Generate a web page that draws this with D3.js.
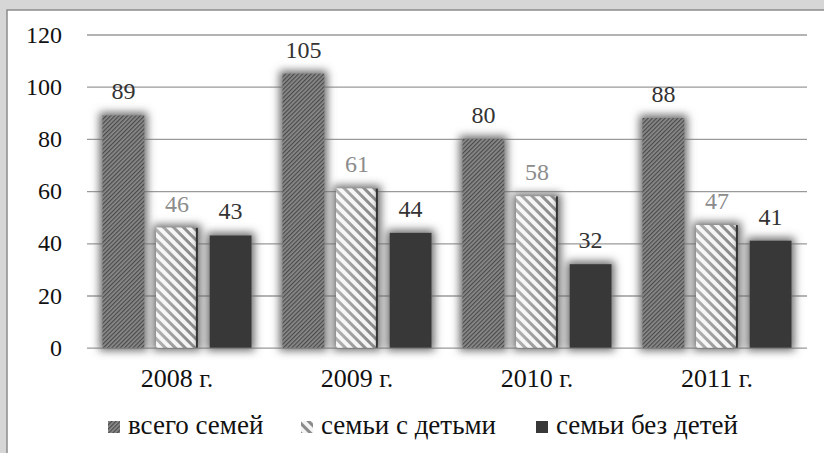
<!DOCTYPE html>
<html>
<head>
<meta charset="utf-8">
<script src="https://cdn.jsdelivr.net/npm/d3@7"></script>
</head>
<body style="margin:0;background:#d6d6d6">
<svg id="chart" width="824" height="453" style="display:block"></svg>
<script>
// data
var years = ['2008 г.', '2009 г.', '2010 г.', '2011 г.'];
var seriesNames = ['всего семей', 'семьи с детьми', 'семьи без детей'];
var totalFamilies = [89, 105, 80, 88];
var withChildren = [46, 61, 58, 47];
var withoutChildren = [43, 44, 32, 41];
var yTicks = [0, 20, 40, 60, 80, 100, 120];

var W = 824, H = 453;
var margin = { left: 87, right: 17, top: 34.5, bottom: 105 };

function serif(sel) {
    return sel.attr('font-family', 'Liberation Serif')
        .style('font-family', 'Liberation Serif');
}

var svg = d3.select('#chart');
var defs = svg.append('defs');

// fine dark hatch for "всего семей"
var p1 = defs.append('pattern')
    .attr('id', 'hatch1')
    .attr('patternUnits', 'userSpaceOnUse')
    .attr('width', 3).attr('height', 3)
    .attr('patternTransform', 'rotate(45)');
p1.append('rect').attr('width', 3).attr('height', 3).attr('fill', '#8a8a8a');
p1.append('rect').attr('width', 1.2).attr('height', 3).attr('fill', '#4a4a4a');

// wide light stripes for "семьи с детьми"
var p2 = defs.append('pattern')
    .attr('id', 'hatch2')
    .attr('patternUnits', 'userSpaceOnUse')
    .attr('width', 7).attr('height', 7)
    .attr('patternTransform', 'rotate(-45)');
p2.append('rect').attr('width', 7).attr('height', 7).attr('fill', '#f4f4f4');
p2.append('rect').attr('width', 3).attr('height', 7).attr('fill', '#8a8a8a');

var shade = defs.append('linearGradient').attr('id', 'shade2')
    .attr('x1', 0).attr('x2', 1).attr('y1', 0).attr('y2', 0);
shade.append('stop').attr('offset', '0%').attr('stop-color', '#fff').attr('stop-opacity', 0.35);
shade.append('stop').attr('offset', '80%').attr('stop-color', '#fff').attr('stop-opacity', 0);
shade.append('stop').attr('offset', '100%').attr('stop-color', '#000').attr('stop-opacity', 0.25);

// soft glow round every bar
var glow = defs.append('filter').attr('id', 'glow')
    .attr('x', '-50%').attr('y', '-20%').attr('width', '200%').attr('height', '140%');
glow.append('feMorphology').attr('in', 'SourceAlpha').attr('operator', 'dilate').attr('radius', 3).attr('result', 'fat');
glow.append('feGaussianBlur').attr('in', 'fat').attr('stdDeviation', 4).attr('result', 'blur');
glow.append('feFlood').attr('flood-color', '#6a6a6a').attr('flood-opacity', 1);
glow.append('feComposite').attr('in2', 'blur').attr('operator', 'in').attr('result', 'halo');
var gm = glow.append('feMerge');
gm.append('feMergeNode').attr('in', 'halo');
gm.append('feMergeNode').attr('in', 'SourceGraphic');

// frame
svg.append('rect')
    .attr('x', 7).attr('y', 10)
    .attr('width', W).attr('height', H)
    .attr('fill', '#fff')
    .attr('stroke', '#8c8c8c')
    .attr('stroke-width', 1.5);

var x0 = d3.scaleBand()
    .domain(years)
    .range([margin.left, W - margin.right])
    .paddingInner(0.172)
    .paddingOuter(0.086);

var x1 = d3.scaleBand()
    .domain(seriesNames)
    .range([0, x0.bandwidth()])
    .paddingInner(0.22);

var y = d3.scaleLinear()
    .domain([0, 120])
    .range([H - margin.bottom - 0.3, margin.top]);

// grid + y labels
var yAxis = svg.append('g')
    .attr('transform', 'translate(' + margin.left + ',0)')
    .call(d3.axisLeft(y).tickValues(yTicks).tickSize(-(W - margin.left - margin.right)).tickPadding(25).tickFormat(d3.format('d')));
yAxis.attr('font-family', 'Liberation Serif');
yAxis.select('.domain').remove();
yAxis.selectAll('.tick line').attr('stroke', '#9a9a9a').attr('stroke-width', 1.3);
serif(yAxis.selectAll('.tick text'))
    .attr('font-size', 24).attr('fill', '#111');

// x labels
var xAxis = svg.append('g')
    .attr('transform', 'translate(0,' + y(0) + ')')
    .call(d3.axisBottom(x0).tickSize(0).tickPadding(0));
xAxis.attr('font-family', 'Liberation Serif');
xAxis.select('.domain').remove();
serif(xAxis.selectAll('.tick text'))
    .attr('y', 39).attr('dy', null)
    .attr('font-size', 26).attr('fill', '#111');

var rows = years.map(function (yr, i) {
    return { year: yr, values: [totalFamilies[i], withChildren[i], withoutChildren[i]] };
});
var fills = ['url(#hatch1)', 'url(#hatch2)', '#383838'];
var labelColors = ['#333', '#8c8c8c', '#333'];

var groups = svg.append('g').selectAll('g.group')
    .data(rows)
    .enter().append('g')
    .attr('class', 'group')
    .attr('transform', function (d) { return 'translate(' + x0(d.year) + ',0)'; });

var cells = groups.selectAll('g.bar')
    .data(function (d) {
        return d.values.map(function (v, k) { return { name: seriesNames[k], k: k, value: v }; });
    })
    .enter().append('g').attr('class', 'bar');

cells.append('rect')
    .attr('x', function (d) { return x1(d.name); })
    .attr('y', function (d) { return y(d.value); })
    .attr('width', x1.bandwidth())
    .attr('height', function (d) { return y(0) - y(d.value); })
    .attr('fill', function (d) { return fills[d.k]; })
    .attr('filter', 'url(#glow)');

// bevel on the striped bars
cells.filter(function (d) { return d.k === 1; })
    .append('rect')
    .attr('x', function (d) { return x1(d.name); })
    .attr('y', function (d) { return y(d.value); })
    .attr('width', x1.bandwidth())
    .attr('height', function (d) { return y(0) - y(d.value); })
    .attr('fill', 'url(#shade2)');
cells.filter(function (d) { return d.k === 1; })
    .append('rect')
    .attr('x', function (d) { return x1(d.name) + x1.bandwidth() - 2; })
    .attr('y', function (d) { return y(d.value); })
    .attr('width', 2)
    .attr('height', function (d) { return y(0) - y(d.value); })
    .attr('fill', '#333');

serif(cells.append('text'))
    .attr('x', function (d) { return x1(d.name) + x1.bandwidth() / 2; })
    .attr('y', function (d) { return y(d.value) - 16; })
    .attr('text-anchor', 'middle')
    .attr('font-size', 24)
    .attr('fill', function (d) { return labelColors[d.k]; })
    .text(function (d) { return d.value; });

// legend
var legendX = [108, 301, 536];
var legend = svg.append('g').selectAll('g.legend')
    .data(seriesNames)
    .enter().append('g')
    .attr('class', 'legend')
    .attr('transform', function (d, i) { return 'translate(' + legendX[i] + ',0)'; });
legend.append('rect')
    .attr('x', 0).attr('y', 421)
    .attr('width', 12).attr('height', 12)
    .attr('fill', function (d, i) { return fills[i]; });
serif(legend.append('text'))
    .attr('x', 20).attr('y', 434)
    .attr('font-size', 27)
    .attr('fill', '#111')
    .text(function (d) { return d; });
</script>
</body>
</html>
